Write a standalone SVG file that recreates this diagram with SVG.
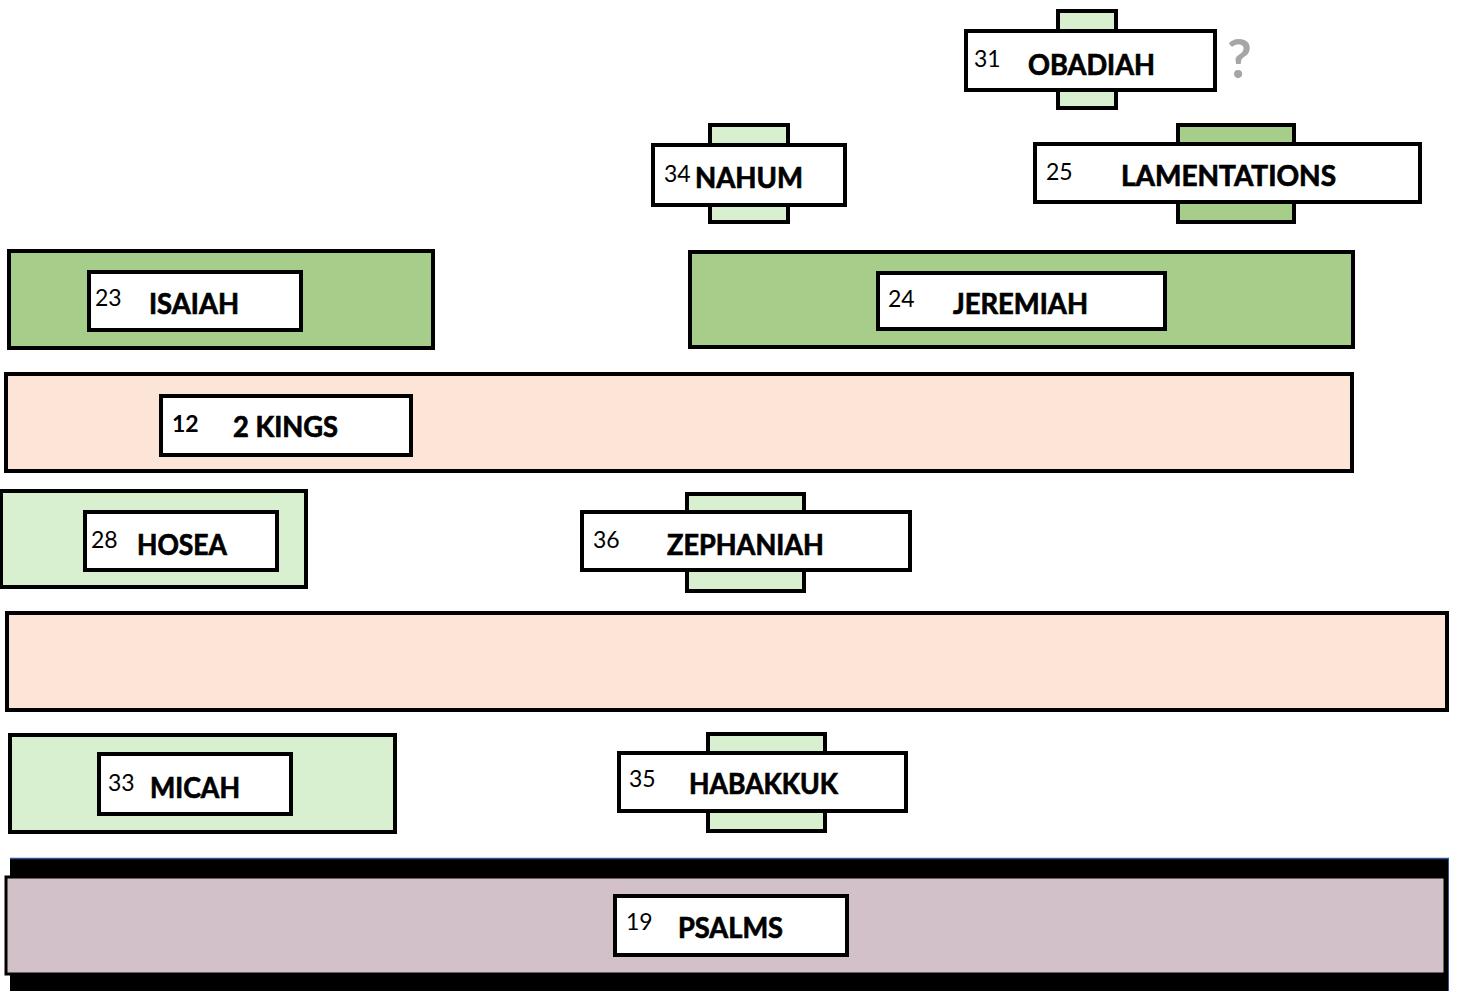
<svg xmlns="http://www.w3.org/2000/svg" width="1458" height="992" viewBox="0 0 1458 992">
<style>
.b{stroke:#000;stroke-width:4}
.w{fill:#fff}
.lg{fill:#d9f0d0}
.mg{fill:#a6cd8a}
.pe{fill:#fce4d6}
.ps{fill:#d2c1c9}
.n{font-family:Lato,"Liberation Sans",sans-serif;font-size:23px;fill:#000}
.t{font-family:Lato,"Liberation Sans",sans-serif;font-size:28px;font-weight:bold;fill:#000;stroke:#000;stroke-width:0.7}
.q{font-family:Lato,"Liberation Sans",sans-serif;font-size:54px;font-weight:bold;fill:#a6a6a6}
</style>
<rect width="1458" height="992" fill="#fff"/>
<g id="psalms">
<rect x="10" y="858" width="1439" height="133" fill="#000"/>
<line x1="10" y1="858.5" x2="1449" y2="858.5" stroke="#2f5597" stroke-width="1.5"/>
<line x1="1448.5" y1="858" x2="1448.5" y2="991" stroke="#2f5597" stroke-width="1"/>
<rect x="6" y="877" width="1439" height="97" class="ps" stroke="#000" stroke-width="3"/>
<rect x="615" y="896" width="232" height="59" class="w b"/>
<text x="626" y="930" class="n">19</text>
<text x="678" y="938" class="t" textLength="105" lengthAdjust="spacingAndGlyphs">PSALMS</text>
</g>
<g id="kings2">
<rect x="6" y="374" width="1346" height="97" class="pe b"/>
<rect x="161" y="396" width="250" height="59" class="w b"/>
<text x="172" y="432" class="n" font-weight="bold">12</text>
<text x="233" y="437" class="t" textLength="105" lengthAdjust="spacingAndGlyphs">2 KINGS</text>
</g>
<g id="bar2">
<rect x="7" y="613" width="1440" height="97" class="pe b"/>
</g>
<g id="isaiah">
<rect x="9" y="251" width="424" height="97" class="mg b"/>
<rect x="89" y="272" width="212" height="58" class="w b"/>
<text x="95" y="306" class="n">23</text>
<text x="149" y="314" class="t" textLength="90" lengthAdjust="spacingAndGlyphs">ISAIAH</text>
</g>
<g id="jeremiah">
<rect x="690" y="252" width="663" height="95" class="mg b"/>
<rect x="878" y="273" width="287" height="56" class="w b"/>
<text x="888" y="307" class="n">24</text>
<text x="953" y="314" class="t" textLength="135" lengthAdjust="spacingAndGlyphs">JEREMIAH</text>
</g>
<g id="hosea">
<rect x="1" y="491" width="305" height="96" class="lg b"/>
<rect x="85" y="512" width="192" height="58" class="w b"/>
<text x="91" y="548" class="n">28</text>
<text x="137" y="555" class="t" textLength="90" lengthAdjust="spacingAndGlyphs">HOSEA</text>
</g>
<g id="zephaniah">
<rect x="687" y="494" width="117" height="97" class="lg b"/>
<rect x="582" y="512" width="328" height="58" class="w b"/>
<text x="593" y="548" class="n">36</text>
<text x="667" y="555" class="t" textLength="157" lengthAdjust="spacingAndGlyphs">ZEPHANIAH</text>
</g>
<g id="micah">
<rect x="10" y="735" width="385" height="97" class="lg b"/>
<rect x="99" y="754" width="192" height="60" class="w b"/>
<text x="108" y="791" class="n">33</text>
<text x="150" y="798" class="t" textLength="90" lengthAdjust="spacingAndGlyphs">MICAH</text>
</g>
<g id="habakkuk">
<rect x="708" y="734" width="117" height="97" class="lg b"/>
<rect x="619" y="753" width="287" height="58" class="w b"/>
<text x="629" y="787" class="n">35</text>
<text x="689" y="794" class="t" textLength="149" lengthAdjust="spacingAndGlyphs">HABAKKUK</text>
</g>
<g id="obadiah">
<rect x="1058" y="11" width="58" height="97" class="lg b"/>
<rect x="966" y="31" width="249" height="59" class="w b"/>
<text x="974" y="67" class="n">31</text>
<text x="1028" y="75" class="t" textLength="127" lengthAdjust="spacingAndGlyphs">OBADIAH</text>
<text x="1227" y="78" class="q">?</text>
</g>
<g id="nahum">
<rect x="710" y="125" width="78" height="97" class="lg b"/>
<rect x="653" y="145" width="192" height="60" class="w b"/>
<text x="664" y="182" class="n">34</text>
<text x="695" y="188" class="t" textLength="108" lengthAdjust="spacingAndGlyphs">NAHUM</text>
</g>
<g id="lamentations">
<rect x="1178" y="125" width="116" height="97" class="mg b"/>
<rect x="1035" y="144" width="385" height="58" class="w b"/>
<text x="1046" y="180" class="n">25</text>
<text x="1121" y="186" class="t" textLength="215" lengthAdjust="spacingAndGlyphs">LAMENTATIONS</text>
</g>
<g id="connectors"></g>
</svg>
